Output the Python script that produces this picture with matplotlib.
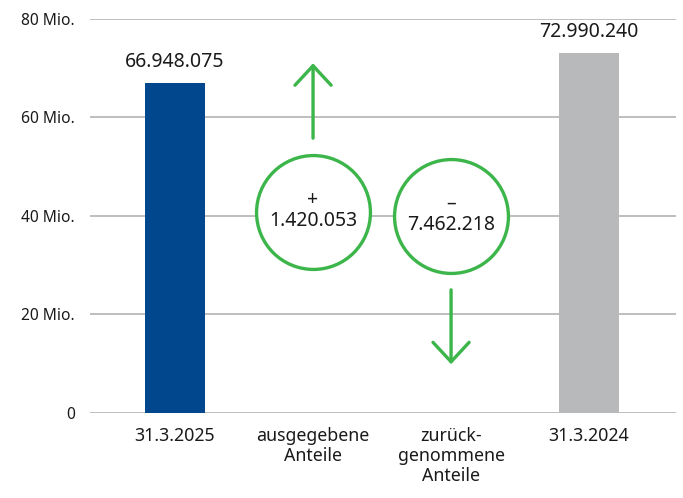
import matplotlib
matplotlib.use("Agg")
import matplotlib.pyplot as plt

plt.rcParams['font.family'] = ['Noto Sans', 'DejaVu Sans']

categories = ["31.3.2025", "ausgegebene\nAnteile", "zurück-\ngenommene\nAnteile", "31.3.2024"]
bar_values = [66948075, None, None, 72990240]
bar_labels = ["66.948.075", "", "", "72.990.240"]
change_labels = ["+\n1.420.053", "–\n7.462.218"]
yticks = [0, 20e6, 40e6, 60e6, 80e6]
yticklabels = ["0", "20 Mio.", "40 Mio.", "60 Mio.", "80 Mio."]

blue = "#00478d"
gray = "#b8b9bb"
green = "#3cb54a"
gridc = "#b3b3b3"

fig = plt.figure(figsize=(6.83, 4.98), dpi=100)
ax = fig.add_axes([0.1318, 0.1707, 0.858, 0.7912])

x = list(range(len(categories)))
for i, v in enumerate(bar_values):
    if v is not None:
        ax.bar(i, v, width=0.44, color=blue if i == 0 else gray, zorder=3)
        ax.annotate(bar_labels[i], (i, v), xytext=(0, 8), textcoords="offset points",
                    ha="center", va="bottom", fontsize=14, color="#1a1a1a")

ax.set_xlim(-0.616, 3.63)
ax.set_ylim(0, 80e6)
ax.set_yticks(yticks)
ax.set_yticklabels(yticklabels, fontsize=11.2, color="#1a1a1a")
ax.set_xticks(x)
ax.set_xticklabels(categories, fontsize=12.8, color="#1a1a1a", linespacing=1.15)
ax.tick_params(axis="both", length=0)
ax.tick_params(axis="y", pad=11)
ax.tick_params(axis="x", pad=10)
ax.yaxis.grid(True, color=gridc, linewidth=1.2, zorder=0)
for s in ax.spines.values():
    s.set_visible(False)

# circles with changes
circ_y = [40.8e6, 40.0e6]
for k, (cx, cy) in enumerate(zip([1, 2], circ_y)):
    ax.scatter([cx], [cy], s=82**2, facecolor="white", edgecolor=green,
               linewidths=2.4, zorder=4)
    ax.text(cx, cy + 0.3e6, change_labels[k], ha="center", va="center",
            fontsize=14, color="#1a1a1a", zorder=5, linespacing=1.1)

# arrows
astyle = "->,head_length=0.7,head_width=0.65"
ax.annotate("", xy=(1, 71.0e6), xytext=(1, 55.8e6),
            arrowprops=dict(arrowstyle=astyle, color=green, lw=2.4,
                            mutation_scale=20, shrinkA=0, shrinkB=0), zorder=4)
ax.annotate("", xy=(2, 9.9e6), xytext=(2, 25.0e6),
            arrowprops=dict(arrowstyle=astyle, color=green, lw=2.4,
                            mutation_scale=20, shrinkA=0, shrinkB=0), zorder=4)

fig.savefig("out.png", dpi=100)
